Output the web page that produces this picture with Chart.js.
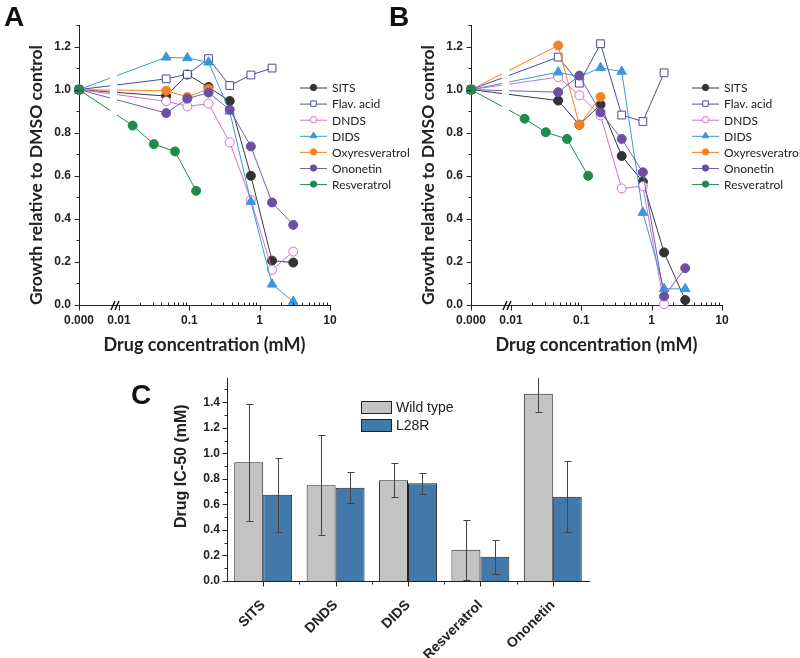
<!DOCTYPE html>
<html>
<head>
<meta charset="utf-8">
<script src="https://cdn.jsdelivr.net/npm/chart.js@4.4.1/dist/chart.umd.min.js"></script>
<style>
  body { margin: 0; background: #fff; }
  #page { position: relative; width: 800px; height: 658px; overflow: hidden; background: #fff; }
  canvas { position: absolute; }
  .tag { position: absolute; font: bold 28px 'Liberation Sans', Arial, sans-serif; line-height: 28px; color: #111; }
</style>
</head>
<body>
<div id="page">
  <canvas id="chartA" width="420" height="360" style="left:0;top:0"></canvas>
  <canvas id="chartB" width="408" height="360" style="left:392px;top:0"></canvas>
  <canvas id="chartC" width="520" height="298" style="left:100px;top:360px"></canvas>
  <div class="tag" style="left:4px;top:3px">A</div>
  <div class="tag" style="left:389px;top:3px">B</div>
  <div class="tag" style="left:131px;top:381px">C</div>
</div>
<script>
// 농도 (mM) - 0 은 DMSO 대조군
const CONC     = [0, 0.046875, 0.09375, 0.1875, 0.375, 0.75, 1.5, 3];
const RES_CONC = [0, 0.015625, 0.03125, 0.0625, 0.125];
const SERIES   = ['SITS', 'Flav. acid', 'DNDS', 'DIDS', 'Oxyresveratrol', 'Ononetin', 'Resveratrol'];

// x축 눈금
const ZERO_POS = 0.0027;
const X_MAJOR  = [ZERO_POS, 0.01, 0.1, 1, 10];
const X_LABELS = ['0.000', '0.01', '0.1', '1', '10'];

// 패널 A
const A_SITS = [1, 0.97, 1.07, 1.012, 0.947, 0.60, 0.206, 0.197];
const A_FLAV = [1, 1.05, 1.071, 1.144, 1.019, 1.068, 1.10];
const A_DNDS = [1, 0.946, 0.922, 0.935, 0.755, 0.488, 0.163, 0.248];
const A_DIDS = [1, 1.15, 1.147, 1.127, 0.899, 0.48, 0.096, 0.016];
const A_OXY  = [1, 0.995, 0.966, 1.003];
const A_ONO  = [1, 0.891, 0.958, 0.986, 0.907, 0.736, 0.476, 0.372];
const A_RES  = [1, 0.833, 0.747, 0.713, 0.53];

// 패널 B
const B_SITS = [1, 0.949, 0.837, 0.93, 0.692, 0.572, 0.244, 0.023];
const B_FLAV = [1, 1.151, 1.03, 1.213, 0.882, 0.852, 1.078];
const B_DNDS = [1, 1.058, 0.974, 0.88, 0.541, 0.552, 0.003];
const B_DIDS = [1, 1.081, 1.06, 1.101, 1.084, 0.429, 0.075, 0.075];
const B_OXY  = [1, 1.205, 0.837, 0.966];
const B_ONO  = [1, 0.988, 1.065, 0.894, 0.771, 0.616, 0.04, 0.171];
const B_RES  = [1, 0.865, 0.802, 0.771, 0.60];

// 패널 C - IC50 (mM)
const DRUGS        = ['SITS', 'DNDS', 'DIDS', 'Resveratrol', 'Ononetin'];
const IC50_WT      = [0.93, 0.75, 0.79, 0.245, 1.467];
const IC50_WT_ERR  = [0.46, 0.39, 0.135, 0.235, 0.147];
const IC50_MUT     = [0.676, 0.731, 0.765, 0.19, 0.66];
const IC50_MUT_ERR = [0.29, 0.12, 0.08, 0.134, 0.28];

// 색상 / 마커
const STYLE = [
  { color: '#3a3a3a', fill: '#333333', shape: 'circle' },
  { color: '#4a4a9c', fill: '#ffffff', shape: 'rect' },
  { color: '#d070c8', fill: '#ffffff', shape: 'circle' },
  { color: '#3b97de', fill: '#3b97de', shape: 'triangle' },
  { color: '#f5821f', fill: '#f5821f', shape: 'circle' },
  { color: '#7060b0', fill: '#6a4fa3', shape: 'circle' },
  { color: '#1d8b4b', fill: '#1d8b4b', shape: 'circle' },
];
const RADIUS = { circle: 4.5, rect: 5.5, triangle: 5.5 };

const ARIAL = "'Liberation Sans', Arial, sans-serif";
const TITLE = "Lato, 'Open Sans', sans-serif";
Chart.defaults.font.family = ARIAL;
Chart.defaults.color = '#222';

function lineSets(vals) {
  return vals.map((ys, i) => {
    const xs = SERIES[i] === 'Resveratrol' ? RES_CONC : CONC;
    const st = STYLE[i];
    return {
      label: SERIES[i],
      data: ys.map((y, k) => ({ x: xs[k] === 0 ? ZERO_POS : xs[k], y })),
      borderColor: st.color,
      borderWidth: 1,
      pointStyle: st.shape,
      pointRadius: RADIUS[st.shape],
      pointBackgroundColor: st.fill,
      pointBorderColor: st.shape === 'circle' && st.fill !== '#ffffff' ? st.fill : st.color,
      pointBorderWidth: 1,
      tension: 0,
      clip: false,
      order: vals.length - i,
    };
  });
}

// ── 눈금 ──────────────────────────────────────────
function logTicks(scale) {
  const t = X_MAJOR.map(v => ({ value: v, major: true }));
  [0.01, 0.1, 1].forEach(d => { for (let k = 2; k < 10; k++) t.push({ value: d * k, major: false }); });
  t.sort((a, b) => a.value - b.value);
  scale.ticks = t;
}
function stepTicks(n) {
  return scale => {
    const t = [];
    for (let k = 0; k <= n; k++) t.push({ value: k / 10, major: k % 2 === 0 });
    scale.ticks = t;
  };
}

function drawMarker(ctx, shape, x, y, r, fill, stroke) {
  ctx.beginPath();
  if (shape === 'rect') {
    const s = r * Math.SQRT1_2;
    ctx.rect(x - s, y - s, 2 * s, 2 * s);
  } else if (shape === 'triangle') {
    ctx.moveTo(x, y - r);
    ctx.lineTo(x + r * 0.866, y + r / 2);
    ctx.lineTo(x - r * 0.866, y + r / 2);
    ctx.closePath();
  } else {
    ctx.arc(x, y, r, 0, Math.PI * 2);
  }
  ctx.fillStyle = fill; ctx.fill();
  ctx.strokeStyle = stroke; ctx.lineWidth = 1; ctx.stroke();
}

const tickMarks = {
  id: 'tickMarks',
  afterDraw(chart, args, o) {
    const { ctx, chartArea: a, scales: { x, y } } = chart;
    const b = Math.round(a.bottom) + 0.5, l = Math.round(a.left) + 0.5;
    ctx.save();
    ctx.strokeStyle = '#222';
    ctx.lineWidth = 1;
    ctx.beginPath();
    x.ticks.forEach(t => {
      const px = Math.round(x.getPixelForValue(t.value)) + 0.5;
      if (t.major !== false) { ctx.moveTo(px, b); ctx.lineTo(px, b + 5); }
      else { ctx.moveTo(px, b); ctx.lineTo(px, b - 3); }
    });
    if (o.catMinor) {
      for (let i = 1; i < x.ticks.length; i++) {
        const px = Math.round(x.getPixelForValue(i - 0.5)) + 0.5;
        ctx.moveTo(px, b); ctx.lineTo(px, b + 3);
      }
    }
    y.ticks.forEach(t => {
      const py = Math.round(y.getPixelForValue(t.value)) + 0.5;
      ctx.moveTo(l, py); ctx.lineTo(l - (t.major ? 5 : 3), py);
    });
    ctx.stroke();
    ctx.restore();
  }
};

// 축 끊김 표시 (//)
const breakMark = {
  id: 'breakMark',
  afterDatasetsDraw(chart, args, o) {
    const { ctx, chartArea: a, scales: { x } } = chart;
    const x0 = x.getPixelForValue(o.from), x1 = x.getPixelForValue(o.to), xm = x.getPixelForValue(o.at);
    ctx.save();
    ctx.fillStyle = '#fff';
    ctx.fillRect(x0, a.top, x1 - x0, a.bottom - a.top - 1);
    ctx.strokeStyle = '#111';
    ctx.lineWidth = 1.5;
    ctx.beginPath();
    [-2, 2].forEach(d => { ctx.moveTo(xm + d - 2, a.bottom + 5); ctx.lineTo(xm + d + 2, a.bottom - 4); });
    ctx.stroke();
    ctx.restore();
  }
};

const lineLegend = {
  id: 'lineLegend',
  afterDraw(chart, args, o) {
    const ctx = chart.ctx;
    ctx.save();
    ctx.font = o.font;
    ctx.textBaseline = 'middle';
    chart.data.datasets.forEach((ds, i) => {
      const y = o.y + i * o.step;
      ctx.strokeStyle = ds.borderColor;
      ctx.lineWidth = 1;
      ctx.beginPath(); ctx.moveTo(o.x, y + 0.5); ctx.lineTo(o.x + o.len, y + 0.5); ctx.stroke();
      drawMarker(ctx, ds.pointStyle, o.x + o.len / 2, y, ds.pointRadius * 0.7, ds.pointBackgroundColor, ds.pointBorderColor);
      ctx.fillStyle = '#222';
      ctx.fillText(ds.label, o.x + o.len + 5, y + 1);
    });
    ctx.restore();
  }
};

const boxLegend = {
  id: 'boxLegend',
  afterDraw(chart, args, o) {
    const ctx = chart.ctx;
    ctx.save();
    ctx.font = o.font;
    ctx.textBaseline = 'middle';
    chart.data.datasets.forEach((ds, i) => {
      const y = o.y + i * o.step;
      ctx.fillStyle = ds.backgroundColor;
      ctx.fillRect(o.x, y, o.w, o.h);
      ctx.strokeStyle = ds.borderColor;
      ctx.lineWidth = 1;
      ctx.strokeRect(o.x + 0.5, y + 0.5, o.w, o.h);
      ctx.fillStyle = '#222';
      ctx.fillText(ds.label, o.x + o.w + 5, y + o.h / 2 + 1);
    });
    ctx.restore();
  }
};

const errorBars = {
  id: 'errorBars',
  afterDatasetsDraw(chart, args, o) {
    const { ctx, chartArea: a, scales: { y } } = chart;
    ctx.save();
    ctx.beginPath(); ctx.rect(a.left, a.top, a.right - a.left, a.bottom - a.top); ctx.clip();
    ctx.strokeStyle = '#444';
    ctx.lineWidth = 1;
    ctx.beginPath();
    o.errors.forEach((errs, di) => {
      const vals = chart.data.datasets[di].data;
      chart.getDatasetMeta(di).data.forEach((bar, k) => {
        const px = Math.round(bar.x) + 0.5;
        const hi = Math.round(y.getPixelForValue(vals[k] + errs[k])) + 0.5;
        const lo = Math.round(y.getPixelForValue(vals[k] - errs[k])) + 0.5;
        ctx.moveTo(px, hi); ctx.lineTo(px, lo);
        ctx.moveTo(px - 3, hi); ctx.lineTo(px + 4, hi);
        ctx.moveTo(px - 3, lo); ctx.lineTo(px + 4, lo);
      });
    });
    ctx.stroke();
    ctx.restore();
  }
};

// ── 성장 곡선 (A, B) ───────────────────────────────
function renderGrowth(id, vals) {
  new Chart(document.getElementById(id), {
    type: 'line',
    data: { datasets: lineSets(vals) },
    options: {
      responsive: false,
      animation: false,
      events: [],
      layout: { padding: { left: 0, top: 25, right: document.getElementById(id).width - 330, bottom: 0 } },
      plugins: {
        legend: { display: false },
        tooltip: { enabled: false },
        breakMark: { from: 0.00743, to: 0.00936, at: 0.00877 },
        lineLegend: { x: 300, y: 87.5, step: 16.1, len: 27, font: "12px " + TITLE },
      },
      scales: {
        x: {
          type: 'logarithmic', min: ZERO_POS, max: 10,
          afterBuildTicks: logTicks,
          afterFit: s => { s.height = 55; },
          grid: { display: false, drawTicks: false },
          border: { color: '#222' },
          ticks: {
            autoSkip: false, maxRotation: 0, padding: 8,
            font: { size: 12, weight: 'bold' },
            callback: v => { const j = X_MAJOR.indexOf(v); return j >= 0 ? X_LABELS[j] : ''; }
          },
          title: {
            display: true, text: 'Drug concentration (mM)',
            font: { family: TITLE, size: 18, weight: 'bold' },
            padding: { top: 0, bottom: 4 }
          }
        },
        y: {
          min: 0, max: 1.3,
          afterBuildTicks: stepTicks(13),
          afterFit: s => { s.width = 79; },
          grid: { display: false, drawTicks: false },
          border: { color: '#222' },
          ticks: {
            autoSkip: false, padding: 8,
            font: { size: 12, weight: 'bold' },
            callback: (v, i, t) => t[i].major ? v.toFixed(1) : ''
          },
          title: {
            display: true, text: 'Growth relative to DMSO control', align: 'start',
            font: { family: TITLE, size: 17.5, weight: 'bold' },
            padding: { top: 26, bottom: 0 }
          }
        }
      }
    },
    plugins: [breakMark, tickMarks, lineLegend]
  });
}

renderGrowth('chartA', [A_SITS, A_FLAV, A_DNDS, A_DIDS, A_OXY, A_ONO, A_RES]);
renderGrowth('chartB', [B_SITS, B_FLAV, B_DNDS, B_DIDS, B_OXY, B_ONO, B_RES]);

// ── IC50 막대 (C) ─────────────────────────────────
new Chart(document.getElementById('chartC'), {
  type: 'bar',
  data: {
    labels: DRUGS,
    datasets: [
      { label: 'Wild type', data: IC50_WT, backgroundColor: '#c3c3c3', borderColor: '#222', borderWidth: 1,
        categoryPercentage: 0.8, barPercentage: 1 },
      { label: 'L28R', data: IC50_MUT, backgroundColor: '#4379aa', borderColor: '#222', borderWidth: 1,
        categoryPercentage: 0.8, barPercentage: 1 },
    ]
  },
  options: {
    responsive: false,
    animation: false,
    events: [],
    layout: { padding: { left: 0, top: 18, right: 31, bottom: 0 } },
    plugins: {
      legend: { display: false },
      tooltip: { enabled: false },
      errorBars: { errors: [IC50_WT_ERR, IC50_MUT_ERR] },
      tickMarks: { catMinor: true },
      boxLegend: { x: 261, y: 41, step: 18, w: 30, h: 12, font: '14px ' + ARIAL },
    },
    scales: {
      x: {
        afterFit: s => { s.height = 77; },
        grid: { display: false, drawTicks: false },
        border: { color: '#222' },
        ticks: { autoSkip: false, minRotation: 45, maxRotation: 45, padding: 16,
                 font: { size: 14, weight: 'bold' } }
      },
      y: {
        min: 0, max: 1.59,
        afterBuildTicks: stepTicks(15),
        afterFit: s => { s.width = 127; },
        grid: { display: false, drawTicks: false },
        border: { color: '#222' },
        ticks: {
          autoSkip: false, padding: 7,
          font: { size: 12, weight: 'bold' },
          callback: (v, i, t) => t[i].major ? v.toFixed(1) : ''
        },
        title: {
          display: true, text: '      Drug IC-50 (mM)',
          font: { size: 16, weight: 'bold' },
          padding: { top: 72, bottom: 0 }
        }
      }
    }
  },
  plugins: [errorBars, tickMarks, boxLegend]
});
</script>
</body>
</html>
